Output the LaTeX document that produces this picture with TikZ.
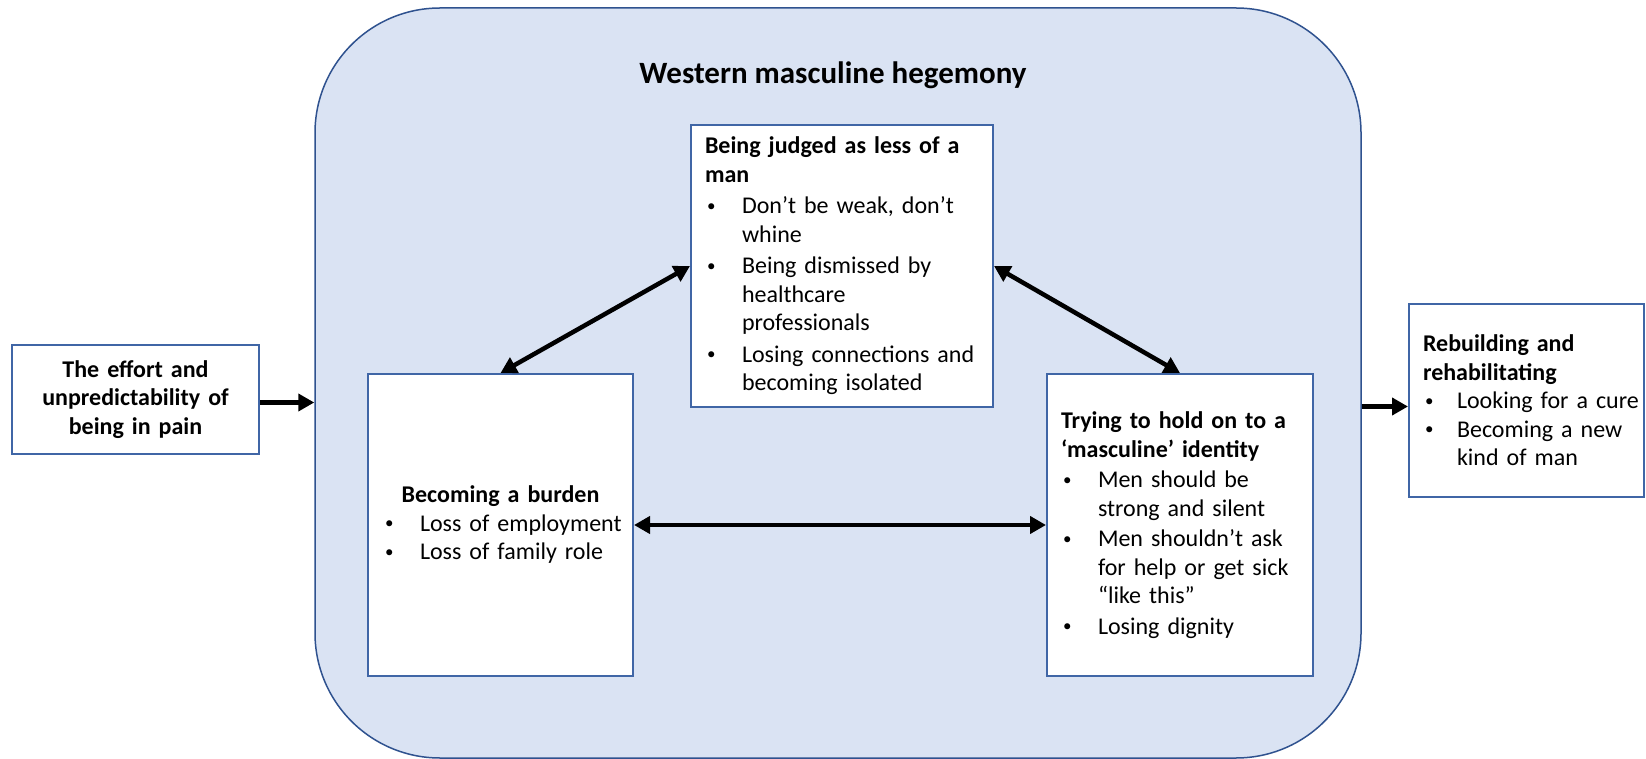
\documentclass[tikz,border=0pt]{standalone}
\usepackage{fontspec}
\setmainfont{Carlito}
\usetikzlibrary{arrows.meta,calc}
\definecolor{hegefill}{HTML}{DAE3F3}
\definecolor{hegedraw}{HTML}{2F528F}
\definecolor{boxdraw}{HTML}{4066A6}
\newlength{\bulletindent}
\setlength{\bulletindent}{37pt}
\newcommand{\bulletmark}{\raisebox{2.5pt}{\fontsize{17}{17}\selectfont •}}
\newcommand{\bl}[1]{\makebox[\bulletindent][l]{\hspace{2pt}\bulletmark}\mbox{#1}}
\newcommand{\ind}[1]{\hspace*{\bulletindent}\mbox{#1}}
\tikzset{
  hege/.style={draw=hegedraw, fill=hegefill, line width=1.5pt, rounded corners=125pt, inner sep=0pt},
  themebox/.style={draw=boxdraw, fill=white, line width=2pt, inner ysep=0pt, align=left,
    font=\fontsize{24}{28.5}\selectfont},
  conn/.style={line width=4.5pt, -{Triangle[length=16pt,width=17pt]}},
  biconn/.style={line width=4.5pt, {Triangle[length=16pt,width=17pt]}-{Triangle[length=16pt,width=17pt]}},
}
\begin{document}
\begin{tikzpicture}[x=1pt,y=-1pt]
\useasboundingbox (0,0) rectangle (1646,759);
\fill[white] (0,0) rectangle (1646,759);

\node[hege, minimum width=1046pt, minimum height=750pt] (hegemony) at (838,383) {};
\node[anchor=base, font=\fontsize{31}{36}\selectfont\bfseries] (title) at (833,84) {Western masculine hegemony};

\node[themebox, inner xsep=14pt, text width=274pt, minimum height=282pt] (judge) at (842,266)
 {\mbox{\textbf{Being judged as less of a}}\\
  \textbf{man}\\[3pt]
  \bl{Don’t be weak, don’t}\\
  \ind{whine}\\[3pt]
  \bl{Being dismissed by}\\
  \ind{healthcare}\\
  \ind{professionals}\\[3pt]
  \bl{Losing connections and}\\
  \ind{becoming isolated}};

\node[themebox, inner xsep=15pt, text width=235pt, minimum height=302pt] (burden) at (500.5,525)
 {\makebox[\linewidth][c]{\textbf{Becoming a burden}}\\
  \bl{Loss of employment}\\
  \bl{Loss of family role}};

\node[themebox, inner xsep=14pt, text width=238pt, minimum height=302pt] (ident) at (1180,525)
 {\mbox{\textbf{Trying to hold on to a}}\\
  \mbox{\textbf{‘masculine’ identity}}\\[2pt]
  \bl{Men should be}\\
  \ind{strong and silent}\\[2pt]
  \bl{Men shouldn’t ask}\\
  \ind{for help or get sick}\\
  \ind{“like this”}\\[2pt]
  \bl{Losing dignity}};

\node[themebox, inner xsep=12pt, text width=223pt, minimum height=109pt, align=center] (effort) at (135.5,399.5)
 {\textbf{The effort and}\\
  \mbox{\textbf{unpredictability of}}\\
  \textbf{being in pain}};

\node[themebox, inner xsep=14pt, text width=207pt, minimum height=193pt] (rebuild) at (1526.5,400.5)
 {\setlength{\bulletindent}{34pt}%
  \mbox{\textbf{Rebuilding and}}\\
  \mbox{\textbf{rehabilitating}}\\
  \bl{Looking for a cure}\\
  \bl{Becoming a new}\\
  \ind{kind of man}};

\draw[conn] ($(effort.east)+(0,3)$) -- ($(effort.east -| hegemony.west)+(0,3)$);
\draw[conn] ($(rebuild.west -| hegemony.east)+(0,6)$) -- ($(rebuild.west)+(0,6)$);
\draw[biconn] (burden.north) -- (judge.west);
\draw[biconn] (judge.east) -- (ident.north);
\draw[biconn] (burden.east) -- (ident.west);
\end{tikzpicture}
\end{document}
